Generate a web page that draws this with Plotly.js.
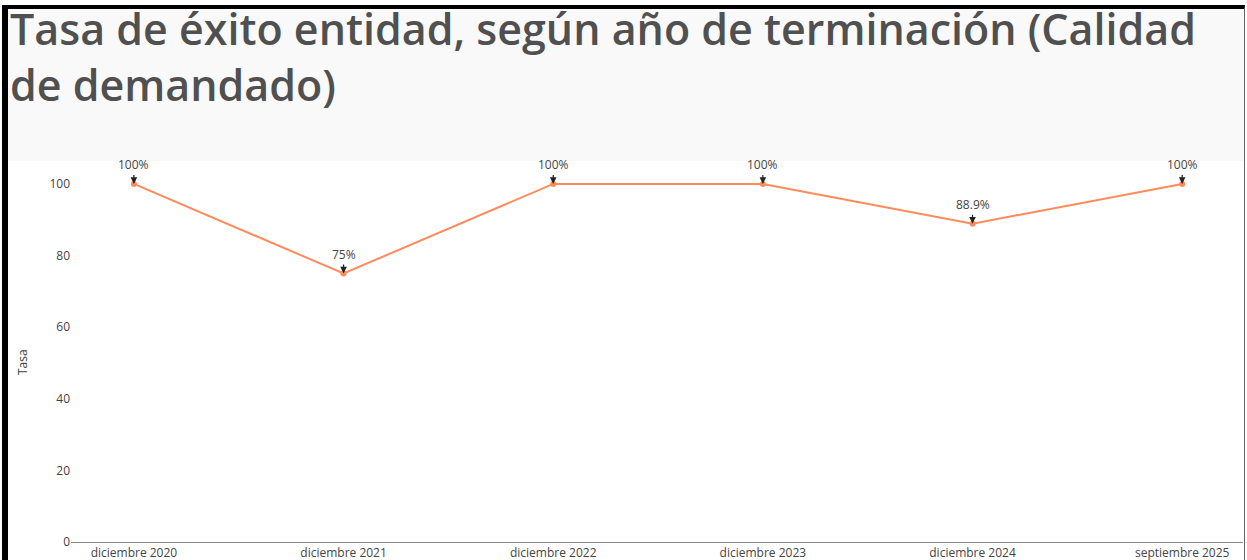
<!DOCTYPE html>
<html>
<head>
<meta charset="utf-8">
<script src="https://cdn.plot.ly/plotly-3.0.1.min.js"></script>
<style>
html, body { margin:0; padding:0; background:#fff; overflow:hidden; width:1247px; height:560px; }
#frame { position:absolute; left:2px; top:5px; border-left:6px solid #000; border-top:4px solid #000; border-right:1px solid #666; width:1236px; height:600px; }
#chart { width:1236px; height:600px; }
</style>
</head>
<body>
<div id="frame"><div id="chart"></div></div>
<script>
const categories = ["diciembre 2020", "diciembre 2021", "diciembre 2022", "diciembre 2023", "diciembre 2024", "septiembre 2025"];
const tasa = [100, 75, 100, 100, 88.9, 100];
const labels = ["100%", "75%", "100%", "100%", "88.9%", "100%"];
const titleText = "Tasa de éxito entidad, según año de terminación (Calidad<br>de demandado)";
const yTitle = "Tasa";

const lineColor = "#ff8a5c";

const trace = {
  x: categories,
  y: tasa,
  type: "scatter",
  mode: "lines+markers",
  line: { color: lineColor, width: 2 },
  marker: { color: lineColor, size: 6 },
  hoverinfo: "skip"
};

const annotations = categories.map((c, i) => ({
  x: c, y: tasa[i], xref: "x", yref: "y",
  text: labels[i],
  showarrow: true, arrowhead: 2, arrowsize: 1.1, arrowwidth: 1.2, arrowcolor: "#222",
  ax: 0, ay: -19,
  font: { family: "Open Sans, sans-serif", size: 12, color: "#444" }
}));

annotations.push({
  text: yTitle, xref: "paper", yref: "paper",
  x: 0, xshift: -49, y: (542 - 362) / 381, xanchor: "center", yanchor: "middle",
  textangle: -90, showarrow: false,
  font: { family: "Open Sans, sans-serif", size: 12, color: "#444" }
});

const layout = {
  width: 1236, height: 600,
  paper_bgcolor: "#ffffff",
  plot_bgcolor: "#ffffff",
  margin: { l: 63, r: 1, t: 152, b: 67 },
  font: { family: "Open Sans, sans-serif", size: 12, color: "#444" },
  title: {
    text: titleText,
    x: 0, xref: "container", xanchor: "left",
    y: 1 - 36 / 600, yref: "container", yanchor: "top",
    pad: { l: 2 },
    font: { family: "Open Sans, sans-serif", size: 43, color: "#505050", weight: 600 }
  },
  showlegend: false,
  xaxis: {
    type: "category",
    range: [-0.3, 5.29],
    showgrid: false, zeroline: false,
    showline: true, linecolor: "#888", linewidth: 1,
    ticks: "",
    tickfont: { size: 12, color: "#444" }
  },
  yaxis: {
    range: [0, 106.4],
    showgrid: false, zeroline: false, showline: false,
    tickvals: [0, 20, 40, 60, 80, 100],
    ticks: "",
    tickfont: { size: 12, color: "#444" }
  },
  shapes: [{
    type: "rect", xref: "paper", yref: "paper", layer: "below",
    x0: -0.06, x1: 1.01, y0: 1.0, y1: 1.5,
    fillcolor: "#f9f9f9", line: { width: 0 }
  }],
  annotations: annotations
};

Plotly.newPlot("chart", [trace], layout, { displayModeBar: false, staticPlot: true });
</script>
</body>
</html>
